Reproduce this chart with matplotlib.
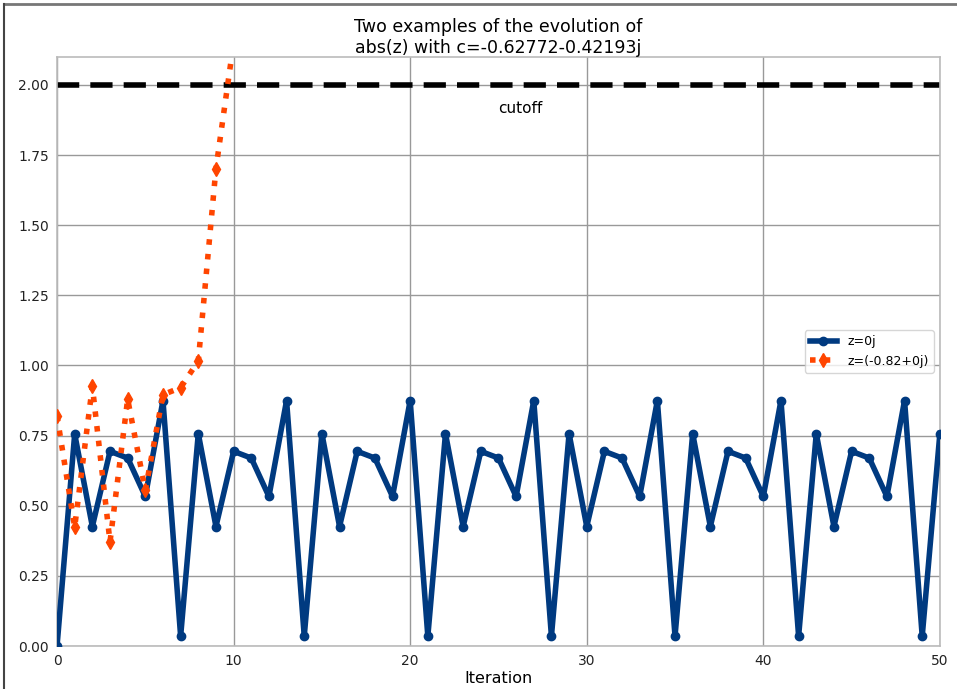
import matplotlib
matplotlib.use("Agg")
import matplotlib.pyplot as plt
from matplotlib.lines import Line2D

# Data
iterations_a = list(range(0, 51))
abs_z0 = [0.0,
          0.756, 0.426, 0.694, 0.670, 0.533, 0.875, 0.035,
          0.757, 0.426, 0.694, 0.670, 0.533, 0.875, 0.035,
          0.757, 0.426, 0.694, 0.670, 0.533, 0.875, 0.035,
          0.757, 0.426, 0.694, 0.670, 0.533, 0.875, 0.035,
          0.757, 0.426, 0.694, 0.670, 0.533, 0.875, 0.035,
          0.757, 0.426, 0.694, 0.670, 0.533, 0.875, 0.035,
          0.757, 0.426, 0.694, 0.670, 0.533, 0.875, 0.035,
          0.757]
iterations_b = list(range(0, 12))
abs_z082 = [0.82, 0.424, 0.926, 0.371, 0.880, 0.555, 0.896, 0.921,
            1.016, 1.702, 2.151, 3.890]
cutoff = 2.0
labels = ["z=0j", "z=(-0.82+0j)"]
title = "Two examples of the evolution of\nabs(z) with c=-0.62772-0.42193j"

fig = plt.figure(figsize=(9.57, 6.89), dpi=100)
ax = fig.add_axes([0.0596, 0.0624, 0.9225, 0.855])

ax.plot(iterations_a, abs_z0, color="#003a80", lw=4, marker="o", ms=6,
        label=labels[0], zorder=3)
ax.plot(iterations_b, abs_z082, color="#ff4500", lw=4, ls=":", marker="d",
        ms=7, label=labels[1], zorder=3)
ax.axhline(cutoff, color="black", lw=4, ls=(0, (4, 2)), zorder=2)
ax.text(25, 1.9, "cutoff", fontsize=11, ha="left", va="baseline")

ax.set_xlim(0, 50)
ax.set_ylim(0, 2.1)
ax.set_yticks([0, 0.25, 0.5, 0.75, 1.0, 1.25, 1.5, 1.75, 2.0])
ax.set_yticklabels(["0.00", "0.25", "0.50", "0.75", "1.00", "1.25", "1.50", "1.75", "2.00"])
ax.set_xticks([0, 10, 20, 30, 40, 50])
ax.grid(True, color="#999999", lw=1)
ax.set_axisbelow(True)
for s in ax.spines.values():
    s.set_color("#bbbbbb")
    s.set_linewidth(1.2)
ax.tick_params(length=0, labelsize=10, colors="#222222", pad=6)
ax.set_xlabel("Iteration", fontsize=11.5, labelpad=2)
ax.set_title(title, fontsize=12.5, pad=2)

leg = ax.legend(loc="center right", bbox_to_anchor=(1.0, 0.5), fontsize=9,
                numpoints=1, fancybox=True, framealpha=0.8, handlelength=2.2,
                borderpad=0.4)
leg.get_frame().set_edgecolor("#cccccc")

# figure border (top and left) as in the reference screenshot
fig.add_artist(Line2D([0.004, 1.0], [0.994, 0.994], transform=fig.transFigure,
                      color="#777777", lw=2))
fig.add_artist(Line2D([0.0045, 0.0045], [0.0, 0.994], transform=fig.transFigure,
                      color="#444444", lw=1.5))

fig.savefig("out.png", dpi=100)
